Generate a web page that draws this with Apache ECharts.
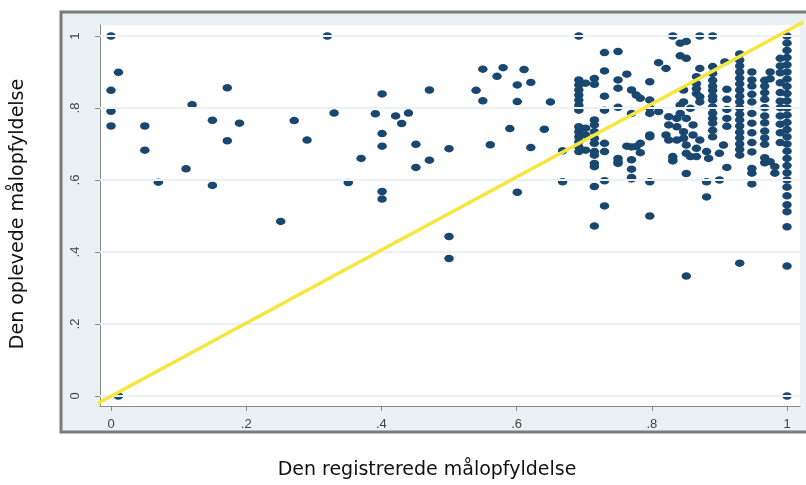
<!DOCTYPE html>
<html>
<head>
<meta charset="utf-8">
<script src="https://cdn.jsdelivr.net/npm/echarts@6/dist/echarts.min.js"></script>
<style>
html,body{margin:0;padding:0;background:#fff;}
#chart{width:806px;height:485px;}
</style>
</head>
<body>
<div id="chart"></div>
<script>
// Tick values and labels
const tickValues = [0, 0.2, 0.4, 0.6, 0.8, 1];
const tickLabels = ['0', '.2', '.4', '.6', '.8', '1'];
const xTitle = 'Den registrerede målopfyldelse';
const yTitle = 'Den oplevede målopfyldelse';

// Sparse observations: [registreret, oplevet]
const sparsePoints = [
  [0.00,1.00],[0.011,0.899],[0.00,0.849],[0.00,0.791],[0.00,0.75],[0.05,0.75],[0.05,0.683],
  [0.07,0.594],[0.111,0.631],[0.12,0.809],[0.15,0.766],[0.15,0.585],[0.172,0.856],[0.172,0.709],
  [0.19,0.758],[0.251,0.485],[0.271,0.765],[0.29,0.711],[0.32,1.00],[0.33,0.786],[0.011,0.00],
  [0.351,0.593],[0.37,0.66],[0.391,0.784],[0.401,0.839],[0.401,0.729],[0.401,0.694],[0.401,0.568],
  [0.401,0.547],[0.421,0.778],[0.43,0.757],[0.44,0.786],[0.451,0.699],[0.451,0.635],[0.471,0.85],
  [0.471,0.655],[0.50,0.687],[0.50,0.443],[0.50,0.382],[0.54,0.849],[0.55,0.908],[0.55,0.82],
  [0.561,0.698],[0.571,0.888],[0.58,0.912],[0.59,0.743],[0.601,0.864],[0.601,0.818],[0.601,0.566],
  [0.611,0.907],[0.621,0.871],[0.621,0.69],[0.641,0.741],[0.65,0.817],[0.668,0.681],[0.668,0.595]
];

// Dense region, by column: [registreret, [oplevet values]]
const denseColumns = [
  [0.692, [1.0,0.878,0.864,0.85,0.836,0.822,0.808,0.794,0.748,0.734,0.72,0.706,0.692,0.679]],
  [0.702, [0.869,0.744,0.725,0.683]],
  [0.715, [0.882,0.866,0.767,0.753,0.734,0.716,0.702,0.679,0.669,0.646,0.637,0.582,0.472]],
  [0.730, [0.954,0.903,0.833,0.794,0.702,0.679,0.598,0.528]],
  [0.750, [0.957,0.878,0.855,0.802,0.66,0.651,0.646]],
  [0.763, [0.894,0.694]],
  [0.770, [0.85,0.785,0.692,0.656,0.63,0.607,0.603]],
  [0.777, [0.836,0.693]],
  [0.783, [0.827,0.702,0.676]],
  [0.797, [0.873,0.822,0.80,0.785,0.725,0.72,0.595,0.50]],
  [0.810, [0.926,0.79]],
  [0.821, [0.91,0.725]],
  [0.825, [0.776,0.753,0.711]],
  [0.831, [1.0,0.665,0.656,0.653]],
  [0.837, [0.771,0.748,0.711]],
  [0.842, [0.98,0.945,0.808,0.785]],
  [0.847, [0.85,0.817,0.734,0.716]],
  [0.851, [0.985,0.938,0.771,0.697,0.674,0.618,0.333]],
  [0.857, [0.799,0.665]],
  [0.861, [0.753,0.725]],
  [0.866, [0.887,0.868,0.854,0.84,0.688,0.665]],
  [0.871, [1.0,0.91,0.831,0.817,0.711]],
  [0.881, [0.679,0.595,0.553]],
  [0.884, [0.66]],
  [0.890, [1.0,0.915,0.896,0.877,0.861,0.849,0.833,0.822,0.803,0.786,0.771,0.758,0.738,0.72]],
  [0.900, [0.674,0.60]],
  [0.906, [0.697]],
  [0.908, [0.928]],
  [0.911, [0.852,0.824,0.796,0.771,0.749,0.635]],
  [0.930, [0.95,0.933,0.917,0.9,0.883,0.867,0.85,0.833,0.817,0.8,0.783,0.767,0.75,0.733,0.717,0.7,0.685,0.669,0.369]],
  [0.948, [0.90,0.878,0.861,0.838,0.817,0.785,0.758,0.731,0.704,0.678,0.632,0.619,0.589]],
  [0.967, [0.877,0.861,0.843,0.824,0.801,0.778,0.759,0.736,0.717,0.699,0.662,0.648]],
  [0.975, [0.90,0.881,0.651]],
  [0.982, [0.637,0.619]],
  [0.990, [0.938,0.917,0.898,0.87,0.843,0.819,0.801,0.778,0.755,0.731,0.704]],
  [1.000, [1.0,0.98,0.96,0.94,0.92,0.90,0.88,0.86,0.84,0.82,0.80,0.78,0.76,0.74,0.72,0.70,0.68,0.66,0.64,0.62,0.60,0.58,0.556,0.531,0.512,0.47,0.361,0.0]]
];

// Reference line (45-degree line)
const refLine = [[-0.021,-0.022],[1.03,1.045]];

const points = sparsePoints.slice();
denseColumns.forEach(function (c) { c[1].forEach(function (y) { points.push([c[0], y]); }); });

function fmt(v) {
  for (let i = 0; i < tickValues.length; i++) {
    if (Math.abs(tickValues[i] - v) < 1e-6) return tickLabels[i];
  }
  return '';
}

const chart = echarts.init(document.getElementById('chart'), null, {renderer: 'canvas'});
chart.setOption({
  animation: false,
  backgroundColor: '#ffffff',
  graphic: {
    elements: [
      {type: 'rect', z: -10, shape: {x: 61, y: 12, width: 770, height: 420},
        style: {fill: '#e9f1f4', stroke: '#7b7b7b', lineWidth: 3}},
      {type: 'rect', z: -9, shape: {x: 100, y: 25, width: 700, height: 381},
        style: {fill: '#ffffff'}},
      {type: 'text', x: 427, y: 470,
        style: {text: xTitle, fontFamily: 'DejaVu Sans', fontSize: 19, fill: '#111',
          align: 'center', verticalAlign: 'middle'}},
      {type: 'text', x: 18, y: 214, rotation: Math.PI / 2,
        style: {text: yTitle, fontFamily: 'DejaVu Sans', fontSize: 19, fill: '#111',
          align: 'center', verticalAlign: 'middle'}}
    ]
  },
  grid: {left: 100, right: 6, top: 25, bottom: 79, containLabel: false, show: false},
  xAxis: {
    type: 'value', min: -0.0163, max: 1.0192,
    axisLine: {show: true, onZero: false, lineStyle: {color: '#8a8a8a', width: 1}},
    axisTick: {show: true, customValues: tickValues, length: 5, lineStyle: {color: '#8a8a8a'}},
    axisLabel: {customValues: tickValues, formatter: fmt, margin: 12,
      fontFamily: 'Liberation Sans', fontSize: 13, color: '#444'},
    splitLine: {show: false}
  },
  yAxis: {
    type: 'value', min: -0.0278, max: 1.0306,
    axisLine: {show: true, onZero: false, lineStyle: {color: '#8a8a8a', width: 1}},
    axisTick: {show: true, customValues: tickValues, length: 5, lineStyle: {color: '#8a8a8a'}},
    axisLabel: {customValues: tickValues, formatter: fmt, margin: 18, rotate: 90,
      fontFamily: 'Liberation Sans', fontSize: 13, color: '#444'},
    splitLine: {show: false}
  },
  series: [
    {
      type: 'scatter', data: [], z: 1, silent: true,
      markLine: {silent: true, symbol: 'none', label: {show: false},
        lineStyle: {color: '#eaf0f3', width: 2, type: 'solid'},
        data: tickValues.map(function (v) { return {yAxis: v}; })}
    },
    {
      type: 'scatter', data: points, z: 2,
      symbol: 'circle', symbolSize: [9.5, 7.5],
      itemStyle: {color: '#1a476f', opacity: 1}
    },
    {
      type: 'line', data: refLine, z: 5, clip: false,
      symbol: 'none', lineStyle: {color: '#f6e63f', width: 3.5}
    }
  ]
});
</script>
</body>
</html>
